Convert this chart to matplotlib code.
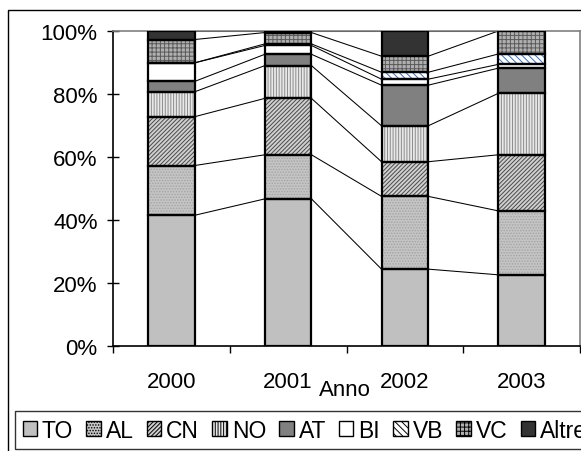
import matplotlib
matplotlib.use('Agg')
import matplotlib.pyplot as plt
from matplotlib.patches import Rectangle, Patch
from matplotlib.ticker import PercentFormatter, FixedLocator
import numpy as np

plt.rcParams['font.family'] = ['Liberation Sans', 'DejaVu Sans']
plt.rcParams['hatch.linewidth'] = 0.7

# data (percent share per year)
anni = ['2000', '2001', '2002', '2003']
province = ['TO', 'AL', 'CN', 'NO', 'AT', 'BI', 'VB', 'VC', 'Altre']
TO = [41.5, 46.7, 24.4, 22.6]
AL = [15.8, 14.0, 23.1, 20.3]
CN = [15.5, 17.9, 11.0, 17.8]
NO = [7.9, 10.4, 11.4, 19.5]
AT = [3.3, 3.6, 12.9, 8.0]
BI = [5.9, 2.8, 1.9, 1.2]
VB = [0.0, 0.5, 2.2, 3.3]
VC = [7.4, 3.6, 5.1, 7.3]
Altre = [2.7, 0.5, 8.0, 0.0]

series = [TO, AL, CN, NO, AT, BI, VB, VC, Altre]

# fill style for each series: face colour, hatch, hatch colour
styles = [
    ('#c0c0c0', None, '#c0c0c0'),
    ('#c4c4c4', '......', '#a4a4a4'),
    ('#d0d0d0', '////////', '#4a4a4a'),
    ('#e8e8e8', '||||||', '#8c8c8c'),
    ('#808080', None, '#808080'),
    ('#ffffff', None, '#ffffff'),
    ('#ffffff', '\\\\\\\\\\', '#2f6fd0'),
    ('#b0b0b0', '++++', '#5a5a5a'),
    ('#333333', None, '#333333'),
]

fig = plt.figure(figsize=(5.81, 4.52), dpi=100)

# outer chart border
fig.patches.append(Rectangle((8 / 581, -0.1), 1.2, (452 - 11) / 452 + 0.1,
                             transform=fig.transFigure, fill=False,
                             edgecolor='black', linewidth=1.0))

ax = fig.add_axes([113 / 581, 1 - 347 / 452, (580 - 113) / 581, (347 - 32) / 452])

x = np.arange(len(anni))
width = 0.40
bottom = np.zeros(len(anni))
handles = []
for vals, name, (fc, hatch, hc) in zip(series, province, styles):
    vals = np.array(vals)
    # hatch layer
    ax.bar(x, vals, width, bottom=bottom, color=fc, hatch=hatch,
           edgecolor=hc, linewidth=0, zorder=2)
    # outline layer
    ax.bar(x, vals, width, bottom=bottom, fill=False,
           edgecolor='black', linewidth=1.6, zorder=3)
    top = bottom + vals
    # series lines between bars
    for i in range(len(anni) - 1):
        ax.plot([x[i] + width / 2, x[i + 1] - width / 2], [top[i], top[i + 1]],
                color='black', linewidth=0.75, zorder=1)
    handles.append(Patch(facecolor=fc, hatch=hatch, edgecolor='black', linewidth=1.0,
                         label=name))
    bottom = top

ax.set_xlim(-0.5, 3.5)
ax.set_ylim(0, 100)
ax.yaxis.set_major_locator(FixedLocator([0, 20, 40, 60, 80, 100]))
ax.yaxis.set_major_formatter(PercentFormatter(decimals=0))
ax.set_xticks(x)
ax.set_xticklabels(anni)
ax.set_xticks([-0.5, 0.5, 1.5, 2.5, 3.5], minor=True)
ax.tick_params(axis='x', which='major', length=0, pad=18, labelsize=16)
ax.tick_params(axis='x', which='minor', length=5, width=1, direction='out')
ax.tick_params(axis='y', which='major', length=8, width=1, direction='inout',
               pad=7, labelsize=16)

for s in ['top', 'right']:
    ax.spines[s].set_color('#808080')
    ax.spines[s].set_linewidth(1.2)
for s in ['left', 'bottom']:
    ax.spines[s].set_linewidth(1.2)

ax.set_xlabel('Anno', fontsize=16)
ax.xaxis.set_label_coords(0.497, -0.105)

leg = fig.legend(handles=handles, loc='upper left',
                 bbox_to_anchor=(15 / 581, 1 - 412 / 452), bbox_transform=fig.transFigure,
                 ncol=9, fontsize=16.5, frameon=True, fancybox=False,
                 handlelength=0.62, handleheight=0.62, handletextpad=0.22,
                 columnspacing=0.58, borderpad=0.33, borderaxespad=0)
leg.get_frame().set_edgecolor('black')
leg.get_frame().set_linewidth(1.0)

fig.savefig('out.png', dpi=100)
